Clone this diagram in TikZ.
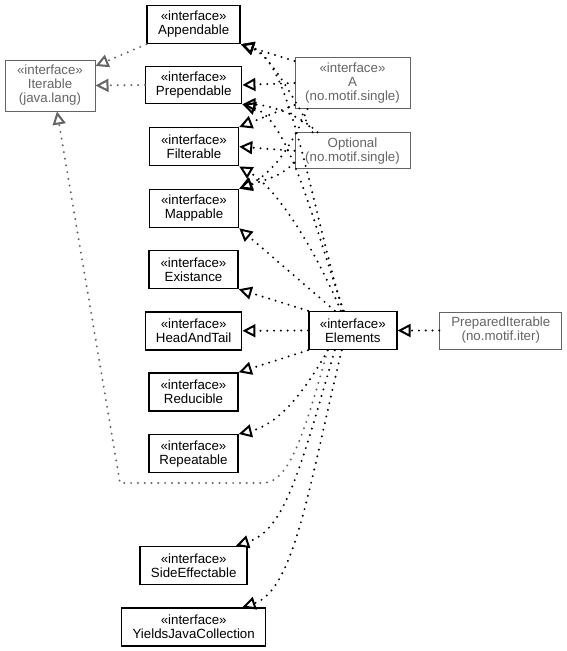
\documentclass[tikz,border=0pt]{standalone}
\usepackage{fontspec}
\setmainfont{Liberation Sans}
\usetikzlibrary{arrows.meta,calc}
\definecolor{extgray}{RGB}{100,100,100}
\begin{document}
\begin{tikzpicture}[x=1pt,y=-1pt,
  box/.style={draw=black, line width=1.5pt, align=center, inner sep=0pt, font=\fontsize{13.3}{14}\selectfont},
  extbox/.style={box, draw=extgray, line width=1pt, text=extgray},
  real/.style={line width=2.2pt, dash pattern=on 0pt off 6.8pt, line cap=round, -{Triangle[open, length=13pt, width=13pt, line width=2pt]}},
  realgray/.style={real, draw=extgray},
]
\useasboundingbox (0,0) rectangle (567,651);
% nodes
\node[box, minimum width=93pt, minimum height=38pt] (app) at (193.7,24.5) {«interface»\\Appendable};
\node[extbox, minimum width=90pt, minimum height=51pt] (iter) at (50,85.5) {«interface»\\Iterable\\(java.lang)};
\node[box, minimum width=96pt, minimum height=37pt] (prep) at (193.7,85) {«interface»\\Prependable};
\node[extbox, minimum width=115pt, minimum height=51pt] (A) at (352.5,83) {«interface»\\A\\(no.motif.single)};
\node[box, minimum width=89pt, minimum height=38pt] (filt) at (194,146.7) {«interface»\\Filterable};
\node[extbox, minimum width=115pt, minimum height=36pt] (opt) at (352.5,150.8) {Optional\\(no.motif.single)};
\node[box, minimum width=89pt, minimum height=38pt] (mapp) at (194,208.5) {«interface»\\Mappable};
\node[box, minimum width=89pt, minimum height=38pt] (exist) at (193.5,269.5) {«interface»\\Existance};
\node[box, minimum width=96pt, minimum height=38pt] (head) at (193.7,330.8) {«interface»\\HeadAndTail};
\node[box, minimum width=88pt, minimum height=38pt] (elem) at (352.8,330.5) {«interface»\\Elements};
\node[extbox, minimum width=122pt, minimum height=37pt] (prepit) at (500.8,330.5) {PreparedIterable\\(no.motif.iter)};
\node[box, minimum width=89pt, minimum height=38pt] (reduc) at (193.5,392) {«interface»\\Reducible};
\node[box, minimum width=89pt, minimum height=38pt] (rep) at (193.5,453.7) {«interface»\\Repeatable};
\node[box, minimum width=107pt, minimum height=38pt] (side) at (193.7,565.5) {«interface»\\SideEffectable};
\node[box, minimum width=144pt, minimum height=38pt] (yjc) at (193.7,627) {«interface»\\YieldsJavaCollection};
\coordinate (bendR) at (263,483);
\coordinate (bendL) at (120,483);
% edges to Iterable
\draw[realgray] (app.south west) -- ([yshift=19.5pt]iter.east);
\draw[realgray] (prep.west) -- (iter.east);
\draw[realgray] ([xshift=-25pt]elem.south) .. controls (305,430) and (290,483) .. (bendR) -- (bendL) -- ([xshift=7pt]iter.south);
% A
\draw[real] ([yshift=22pt]A.west) .. controls (275,55) .. (app.south east);
\draw[real] (A.west) -- (prep.east);
\draw[real] ([yshift=-22pt]A.west) -- (filt.north east);
\draw[real] ([xshift=-45pt]A.south) .. controls (290,150) and (270,175) .. (mapp.north east);
% Optional
\draw[real] ([xshift=-40pt]opt.north) .. controls (295,100) and (270,55) .. (app.south east);
\draw[real] ([xshift=-35pt]opt.north) .. controls (300,115) and (270,105) .. (prep.south east);
\draw[real] (opt.west) -- (filt.east);
\draw[real] ([yshift=-12pt]opt.west) .. controls (280,175) .. (mapp.north east);
% Elements
\draw[real] ([xshift=-10pt]elem.north) .. controls (310,200) and (290,60) .. (app.south east);
\draw[real] ([xshift=-9pt]elem.north) .. controls (315,230) and (290,120) .. (prep.south east);
\draw[real] ([xshift=-12pt]elem.north) .. controls (320,260) and (280,190) .. (filt.south east);
\draw[real] ([xshift=-18pt]elem.north) -- (mapp.south east);
\draw[real] (elem.north west) -- (exist.south east);
\draw[real] (elem.west) -- (head.east);
\draw[real] (elem.south west) -- (reduc.north east);
\draw[real] ([xshift=-25pt]elem.south) .. controls (300,400) and (275,425) .. (rep.north east);
\draw[real] ([xshift=-18pt]elem.south) .. controls (300,470) and (285,530) .. ([xshift=-12pt]side.north east);
\draw[real] ([xshift=-11pt]elem.south) .. controls (310,480) and (295,590) .. ([xshift=-24pt]yjc.north east);
\draw[real] (prepit.west) -- (elem.east);
\end{tikzpicture}
\end{document}
